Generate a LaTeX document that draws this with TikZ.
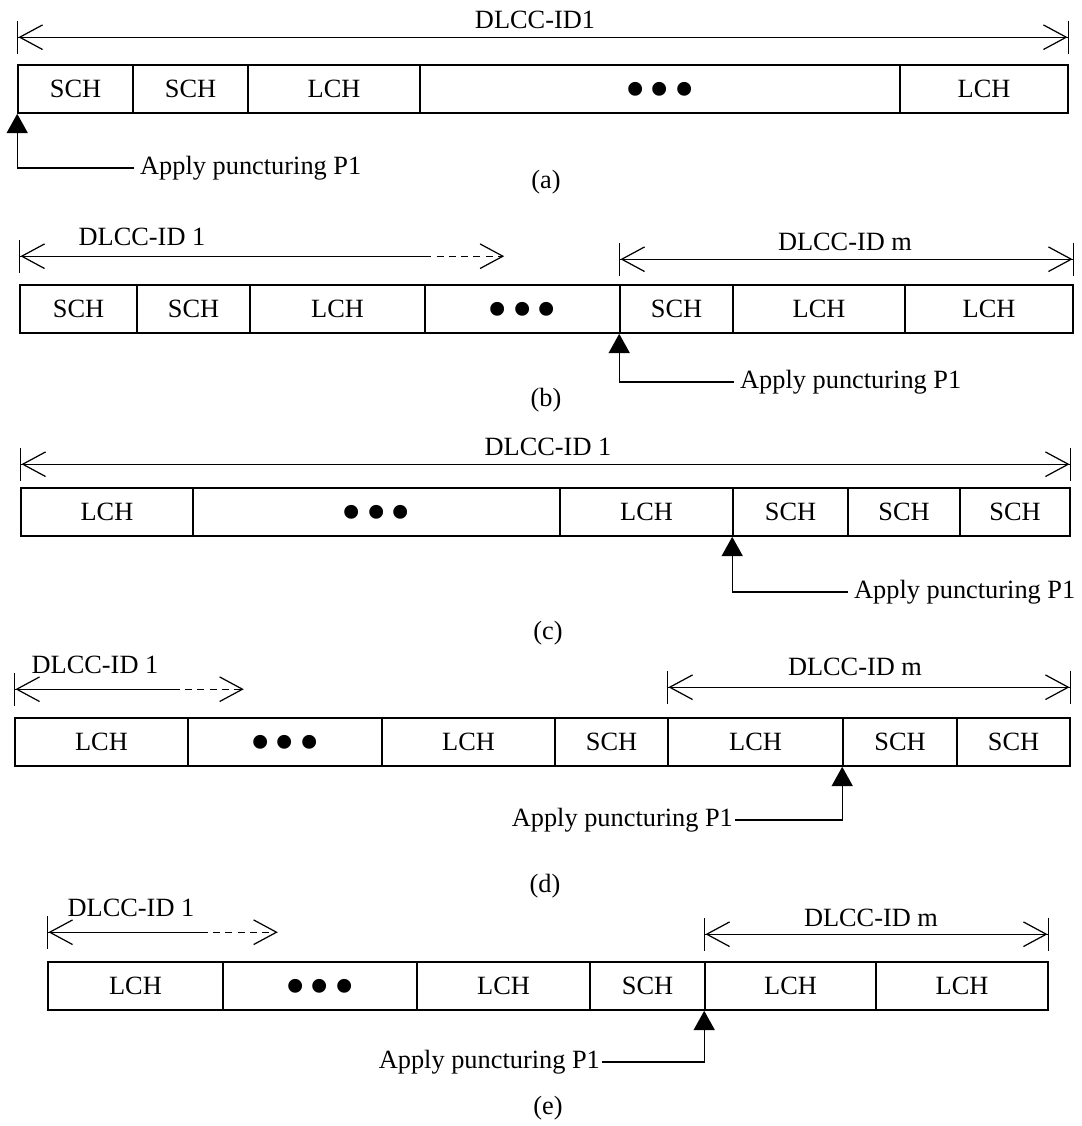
\documentclass[tikz,border=0pt]{standalone}
\usepackage{fontspec}
\setmainfont{Liberation Serif}
\usetikzlibrary{arrows.meta}

\newcommand{\lblfont}{\fontsize{15}{18}\selectfont}
\newcommand{\tridot}{{\fontsize{33}{33}\selectfont\vphantom{\textbullet}\raisebox{-3.4pt}[0pt][0pt]{\textbullet\hspace{0.07em}\textbullet\hspace{0.07em}\textbullet}}}

\begin{document}
\begin{tikzpicture}[
    x=0.02cm, y=-0.02cm,
    cell/.style     = {draw, line width=0.9pt, minimum height=0.96cm,
                       inner sep=0pt, font=\lblfont},
    lbl/.style      = {font=\lblfont},
    span/.style     = {line width=0.7pt,
                       {Bar[width=19pt,sep=0pt]Straight Barb[length=13pt,width=14pt,sep=0pt]}-{Straight Barb[length=13pt,width=14pt,sep=0pt]Bar[width=19pt,sep=0pt]}},
    spanopen/.style = {line width=0.7pt,
                       {Bar[width=19pt,sep=0pt]Straight Barb[length=13pt,width=14pt,sep=0pt]}-},
    spantail/.style = {line width=0.7pt, dash pattern=on 4pt off 3pt,
                       -{Straight Barb[length=13pt,width=14pt]}},
    punct/.style    = {line width=0.8pt, -{Triangle[length=11pt,width=12pt]}},
]
\useasboundingbox (0,0) rectangle (1082,1126);

%% (a)
\foreach \a/\b/\t [count=\i] in {18/133/SCH, 133/248/SCH, 248/420/LCH, 420/900/\tridot, 900/1068/LCH}{
  \pgfmathsetmacro\w{(\b-\a)*0.02}
  \node[cell, minimum width=\w cm] (a\i) at ({(\a+\b)/2}, 89) {\t};
}
\draw[span] ([yshift=0.54cm]a1.north west) -- ([yshift=0.54cm]a5.north east);
\node[lbl] (ida) at (535,20) {DLCC-ID1};
\node[lbl, anchor=west] (pa) at (134,168) {Apply puncturing P1};
\draw[punct] (pa.west) -| (a1.south west);
\node[lbl] (capa) at (546,182) {(a)};

%% (b)
\foreach \a/\b/\t [count=\i] in {20/137/SCH, 137/250/SCH, 250/425/LCH, 425/620/\tridot, 620/733/SCH, 733/905/LCH, 905/1073/LCH}{
  \pgfmathsetmacro\w{(\b-\a)*0.02}
  \node[cell, minimum width=\w cm] (b\i) at ({(\a+\b)/2}, 309) {\t};
}
\coordinate (b1m) at ([yshift=0.56cm]b4.north west);
\coordinate (b1e) at ([xshift=1.6cm]b1m);
\draw[spanopen] ([yshift=0.56cm]b1.north west) -- (b1m);
\draw[spantail] (b1m) -- (b1e);
\node[lbl] (idb1) at (142,237) {DLCC-ID 1};
\draw[span] ([yshift=0.5cm]b5.north west) -- ([yshift=0.5cm]b7.north east);
\node[lbl] (idbm) at (845,242) {DLCC-ID m};
\node[lbl, anchor=west] (pb) at (734,382) {Apply puncturing P1};
\draw[punct] (pb.west) -| (b5.south west);
\node[lbl] (capb) at (546,400) {(b)};

%% (c)
\foreach \a/\b/\t [count=\i] in {21/193/LCH, 193/560/\tridot, 560/733/LCH, 733/848/SCH, 848/960/SCH, 960/1070/SCH}{
  \pgfmathsetmacro\w{(\b-\a)*0.02}
  \node[cell, minimum width=\w cm] (c\i) at ({(\a+\b)/2}, 512) {\t};
}
\draw[span] ([yshift=0.46cm]c1.north west) -- ([yshift=0.46cm]c6.north east);
\node[lbl] (idc) at (548,447) {DLCC-ID 1};
\node[lbl, anchor=west] (pc) at (848,592) {Apply puncturing P1};
\draw[punct] (pc.west) -| (c4.south west);
\node[lbl] (capc) at (548,633) {(c)};

%% (d)
\foreach \a/\b/\t [count=\i] in {15/188/LCH, 188/382/\tridot, 382/555/LCH, 555/668/SCH, 668/843/LCH, 843/957/SCH, 957/1070/SCH}{
  \pgfmathsetmacro\w{(\b-\a)*0.02}
  \node[cell, minimum width=\w cm] (d\i) at ({(\a+\b)/2}, 742) {\t};
}
\coordinate (d1m) at ([xshift=-0.32cm, yshift=0.56cm]d1.north east);
\coordinate (d1e) at ([xshift=1.42cm]d1m);
\draw[spanopen] ([yshift=0.56cm]d1.north west) -- (d1m);
\draw[spantail] (d1m) -- (d1e);
\node[lbl] (idd1) at (95,665) {DLCC-ID 1};
\draw[span] ([yshift=0.6cm]d5.north west) -- ([yshift=0.6cm]d7.north east);
\node[lbl] (iddm) at (855,667) {DLCC-ID m};
\node[lbl, anchor=east, inner xsep=1pt] (pd) at (735,820) {Apply puncturing P1};
\draw[punct] (pd.east) -| (d6.south west);
\node[lbl] (capd) at (545,886) {(d)};

%% (e)
\foreach \a/\b/\t [count=\i] in {48/223/LCH, 223/417/\tridot, 417/590/LCH, 590/705/SCH, 705/876/LCH, 876/1048/LCH}{
  \pgfmathsetmacro\w{(\b-\a)*0.02}
  \node[cell, minimum width=\w cm] (e\i) at ({(\a+\b)/2}, 986) {\t};
}
\coordinate (e1m) at ([xshift=-0.46cm, yshift=0.58cm]e1.north east);
\coordinate (e1e) at ([xshift=1.54cm]e1m);
\draw[spanopen] ([yshift=0.58cm]e1.north west) -- (e1m);
\draw[spantail] (e1m) -- (e1e);
\node[lbl] (ide1) at (131,908) {DLCC-ID 1};
\draw[span] ([yshift=0.54cm]e5.north west) -- ([yshift=0.54cm]e6.north east);
\node[lbl] (idem) at (871,918) {DLCC-ID m};
\node[lbl, anchor=east, inner xsep=1pt] (pe) at (602,1062) {Apply puncturing P1};
\draw[punct] (pe.east) -| (e5.south west);
\node[lbl] (cape) at (548,1108) {(e)};

\end{tikzpicture}
\end{document}
